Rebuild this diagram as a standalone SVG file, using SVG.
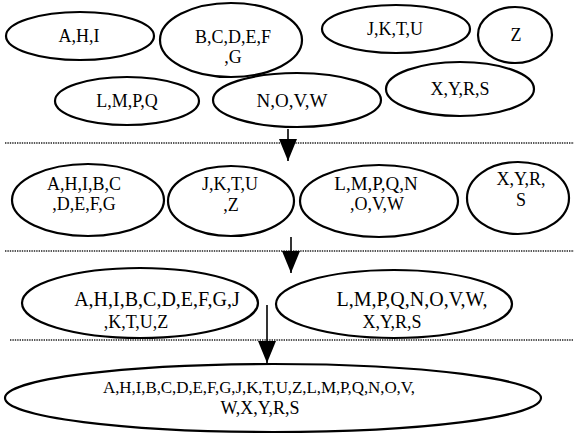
<svg xmlns="http://www.w3.org/2000/svg" width="574" height="434" viewBox="0 0 574 434">
<style>
  .n ellipse { fill: #fff; stroke: #000; stroke-width: 2.2; }
  .n text { font-size: 18px; fill: #000; text-anchor: middle; }
  .n text.b { font-size: 19px; }
  .n text.l { font-size: 20px; }
  .n text.s { font-size: 17px; }
  .sep { stroke: #222; stroke-width: 1.3; stroke-dasharray: 1.4 1; }
  .arr { stroke: #000; stroke-width: 1.6; }
</style>
<defs>
  <marker id="ah" viewBox="0 0 22 18" refX="22" refY="9" markerWidth="22" markerHeight="18" markerUnits="userSpaceOnUse" orient="auto">
    <path d="M0,0 L22,9 L0,18 Z" fill="#000"/>
  </marker>
</defs>
<rect width="574" height="434" fill="#fff"/>
<g id="separators">
  <line class="sep" x1="5" y1="143" x2="574" y2="143"/>
  <line class="sep" x1="5" y1="251" x2="574" y2="251"/>
  <line class="sep" x1="10" y1="340" x2="574" y2="340"/>
</g>
<g id="nodes" font-family="'Liberation Serif', 'Times New Roman', Tinos, 'DejaVu Serif', serif">
<g id="n1" class="n"><ellipse cx="80" cy="36" rx="74" ry="24"/><text x="79" y="42">A,H,I</text></g>
<g id="n2" class="n"><ellipse cx="231" cy="40" rx="71" ry="37"/><text x="233" y="43">B,C,D,E,F</text><text x="233" y="63">,G</text></g>
<g id="n3" class="n"><ellipse cx="396" cy="29" rx="74" ry="24"/><text x="395" y="35">J,K,T,U</text></g>
<g id="n4" class="n"><ellipse cx="515" cy="35" rx="37" ry="28"/><text x="516" y="41">Z</text></g>
<g id="n5" class="n"><ellipse cx="127" cy="101" rx="72" ry="24"/><text x="127" y="107">L,M,P,Q</text></g>
<g id="n6" class="n"><ellipse cx="297" cy="100" rx="84" ry="27"/><text class="b" x="292" y="107">N,O,V,W</text></g>
<g id="n7" class="n"><ellipse cx="460" cy="89" rx="74" ry="27"/><text x="460" y="95">X,Y,R,S</text></g>
<g id="n8" class="n"><ellipse cx="88" cy="200" rx="76" ry="36"/><text x="84" y="190">A,H,I,B,C</text><text x="84" y="210">,D,E,F,G</text></g>
<g id="n9" class="n"><ellipse cx="231" cy="201" rx="63" ry="35"/><text x="230" y="190">J,K,T,U</text><text x="231" y="211">,Z</text></g>
<g id="n10" class="n"><ellipse cx="379" cy="201" rx="79" ry="36"/><text class="b" x="376" y="190">L,M,P,Q,N</text><text x="377" y="210">,O,V,W</text></g>
<g id="n11" class="n"><ellipse cx="518" cy="198" rx="51" ry="36"/><text x="521" y="185">X,Y,R,</text><text x="521" y="206">S</text></g>
<g id="n12" class="n"><ellipse cx="140" cy="303" rx="118" ry="35"/><text class="l" x="157" y="306">A,H,I,B,C,D,E,F,G,J</text><text x="136" y="328">,K,T,U,Z</text></g>
<g id="n13" class="n"><ellipse cx="394" cy="304" rx="118" ry="34"/><text class="l" x="412" y="306">L,M,P,Q,N,O,V,W,</text><text x="392" y="328">X,Y,R,S</text></g>
<g id="n14" class="n"><ellipse cx="273" cy="398" rx="268" ry="34"/><text class="s" x="259" y="393" textLength="312" lengthAdjust="spacing">A,H,I,B,C,D,E,F,G,J,K,T,U,Z,L,M,P,Q,N,O,V,</text><text x="260" y="414">W,X,Y,R,S</text></g>
</g>
<g id="connectors">
  <line class="arr" x1="288" y1="129" x2="288" y2="161" marker-end="url(#ah)"/>
  <line class="arr" x1="291" y1="237" x2="291" y2="273" marker-end="url(#ah)"/>
  <line class="arr" x1="267" y1="305" x2="267" y2="363" marker-end="url(#ah)"/>
</g>
</svg>
